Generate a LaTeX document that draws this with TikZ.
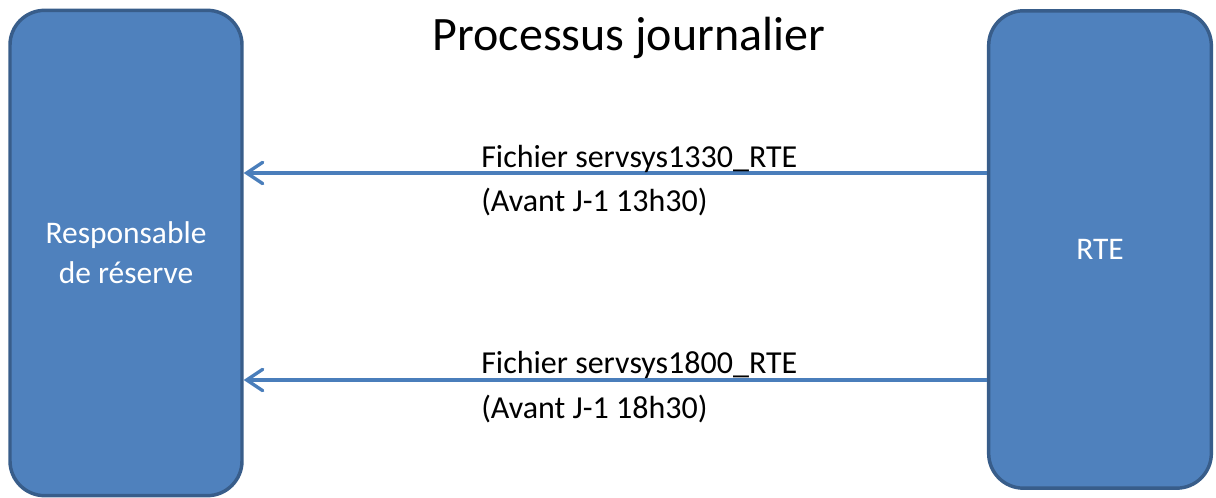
\documentclass[tikz,border=0pt]{standalone}
\usepackage{fontspec}
\setmainfont{Carlito}
\usetikzlibrary{arrows.meta}
\definecolor{boite}{HTML}{4F81BD}
\definecolor{bord}{HTML}{385D8A}
\definecolor{trait}{HTML}{4A7EBB}

\begin{document}
\begin{tikzpicture}[x=0.75pt,y=-0.75pt,
    acteur/.style={rectangle,rounded corners=26pt,draw=bord,fill=boite,line width=2.6pt,
      text=white,align=center,font=\fontsize{23.6}{30}\selectfont},
    fleche/.style={draw=trait,line width=2.5pt,-{Straight Barb[length=12pt,width=16pt,line cap=round]}},
    etiquette/.style={anchor=base west,inner sep=0pt,align=left,font=\fontsize{24}{33.5}\selectfont}]
    \useasboundingbox (0,0) rectangle (1216,498);
    \path
    (126,253) node[acteur,minimum width=174pt,minimum height=364pt](resp) {Responsable\\de réserve}
    (1100,249.5) node[acteur,minimum width=167pt,minimum height=358pt](rte) {RTE}
    (629,51) node[anchor=base,inner sep=0pt,font=\fontsize{36}{42}\selectfont](titre) {Processus journalier};

    \draw[fleche] (rte.west |- 0,173) -- (resp.east |- 0,173);
    \draw[fleche] (rte.west |- 0,380) -- (resp.east |- 0,380);

    \node[etiquette] (fic1) at (481,212) {Fichier servsys1330\_RTE\\(Avant J-1 13h30)};
    \node[etiquette] (fic2) at (481,418) {Fichier servsys1800\_RTE\\(Avant J-1 18h30)};
\end{tikzpicture}
\end{document}
